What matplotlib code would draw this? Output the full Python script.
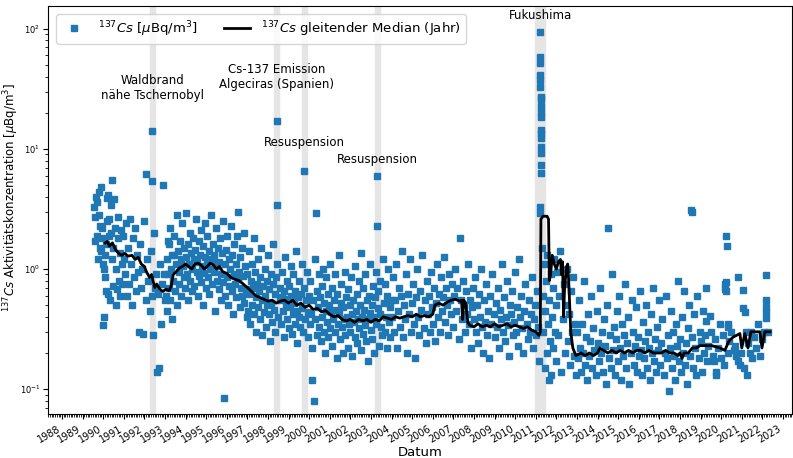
import datetime as dt
import numpy as np
import matplotlib
matplotlib.use("Agg")
import matplotlib.pyplot as plt
import matplotlib.dates as mdates

# Messwerte (Dezimaljahr, Cs-137 in µBq/m³), nach Zeitabschnitten
cs_1989_1990 = [(1989.55, 3.3), (1989.6, 1.7), (1989.62, 2.7), (1989.66, 4.0), (1989.7, 1.9), (1989.72, 3.6),
                (1989.75, 1.2), (1989.78, 2.8), (1989.8, 4.4), (1989.83, 1.5), (1989.86, 2.3), (1989.88, 4.8),
                (1989.9, 1.4), (1989.93, 2.2), (1989.95, 1.8), (1989.98, 1.1), (1990.0, 0.34), (1990.03, 0.4),
                (1990.05, 1.0), (1990.08, 0.85), (1990.1, 1.3), (1990.13, 0.65), (1990.15, 1.6), (1990.18, 2.5),
                (1990.2, 3.9), (1990.23, 4.1), (1990.25, 0.62), (1990.28, 2.6), (1990.3, 1.9), (1990.33, 0.55),
                (1990.36, 3.4), (1990.4, 2.0), (1990.42, 1.2), (1990.45, 5.5), (1990.48, 0.72), (1990.5, 1.5),
                (1990.53, 3.8), (1990.56, 2.2), (1990.6, 0.5), (1990.63, 1.0), (1990.66, 0.68), (1990.7, 1.8),
                (1990.73, 2.7), (1990.76, 0.8), (1990.8, 1.35), (1990.83, 0.6), (1990.86, 2.1), (1990.9, 1.1),
                (1990.93, 0.75), (1990.96, 1.9)]

cs_1991_1992 = [(1991.0, 1.2), (1991.05, 0.9), (1991.1, 2.4), (1991.15, 0.6), (1991.2, 1.5), (1991.25, 0.75),
                (1991.3, 2.6), (1991.35, 1.1), (1991.4, 0.5), (1991.45, 1.8), (1991.5, 0.85), (1991.55, 2.2),
                (1991.6, 0.65), (1991.65, 1.3), (1991.7, 0.95), (1991.75, 0.3), (1991.8, 1.6), (1991.85, 0.7),
                (1991.9, 1.0), (1991.95, 0.29), (1992.0, 2.5), (1992.06, 6.2), (1992.1, 0.55), (1992.15, 1.2),
                (1992.2, 0.8), (1992.25, 0.45), (1992.3, 1.4), (1992.35, 0.6), (1992.37, 14.0), (1992.38, 5.4),
                (1992.4, 0.28), (1992.45, 2.0), (1992.5, 0.7), (1992.55, 0.9), (1992.6, 0.14), (1992.65, 0.62),
                (1992.7, 0.15), (1992.75, 1.1), (1992.8, 0.35), (1992.85, 0.75), (1992.92, 5.0), (1992.95, 0.9)]

cs_1993_1996 = [(1993.02, 0.55), (1993.05, 0.6), (1993.08, 1.2), (1993.1, 0.45), (1993.13, 1.7), (1993.15, 0.9),
                (1993.18, 1.6), (1993.2, 0.7), (1993.23, 2.2), (1993.26, 0.55), (1993.3, 1.0), (1993.33, 0.38),
                (1993.36, 1.3), (1993.4, 0.8), (1993.43, 1.3), (1993.46, 1.9), (1993.5, 0.65), (1993.53, 1.1),
                (1993.56, 2.8), (1993.6, 0.5), (1993.63, 1.4), (1993.66, 0.95), (1993.7, 0.75), (1993.73, 1.7),
                (1993.76, 1.2), (1993.8, 0.6), (1993.83, 2.4), (1993.86, 1.05), (1993.9, 0.85), (1993.93, 1.5),
                (1993.96, 0.7), (1994.0, 1.25), (1994.03, 2.9), (1994.06, 0.9), (1994.1, 1.6), (1994.13, 0.55),
                (1994.16, 1.1), (1994.2, 2.0), (1994.23, 0.8), (1994.26, 1.35), (1994.3, 0.65), (1994.33, 1.0),
                (1994.36, 1.8), (1994.4, 1.2), (1994.43, 0.72), (1994.46, 1.45), (1994.5, 2.6), (1994.53, 0.95),
                (1994.56, 1.15), (1994.6, 0.6), (1994.63, 1.7), (1994.66, 0.88), (1994.7, 1.3), (1994.73, 2.1),
                (1994.76, 0.78), (1994.8, 1.05), (1994.83, 0.5), (1994.86, 1.55), (1994.9, 0.92), (1994.93, 1.25),
                (1994.96, 2.4), (1995.0, 0.7), (1995.03, 1.1), (1995.06, 1.9), (1995.1, 0.85), (1995.13, 1.4),
                (1995.16, 0.62), (1995.2, 1.0), (1995.23, 2.8), (1995.26, 1.2), (1995.3, 0.75), (1995.33, 1.6),
                (1995.36, 0.95), (1995.4, 1.3), (1995.43, 0.45), (1995.46, 1.05), (1995.5, 2.2), (1995.53, 0.8),
                (1995.56, 1.5), (1995.6, 0.68), (1995.63, 1.15), (1995.66, 1.8), (1995.7, 0.9), (1995.73, 0.55),
                (1995.76, 1.35), (1995.8, 2.5), (1995.83, 0.78), (1995.86, 0.085), (1995.9, 1.1), (1995.93, 0.6),
                (1995.96, 1.45), (1996.0, 0.85), (1996.03, 1.9), (1996.06, 0.5), (1996.1, 1.2), (1996.13, 0.72),
                (1996.16, 1.0), (1996.2, 2.3), (1996.23, 0.65), (1996.26, 1.3), (1996.3, 0.42), (1996.33, 0.9),
                (1996.36, 1.6), (1996.4, 0.75), (1996.43, 1.1), (1996.46, 0.58), (1996.5, 1.9), (1996.53, 0.82),
                (1996.56, 3.0), (1996.6, 0.95), (1996.63, 0.48), (1996.66, 1.25), (1996.7, 0.7), (1996.73, 1.5),
                (1996.76, 0.6), (1996.8, 0.88), (1996.83, 2.0), (1996.86, 0.52), (1996.9, 1.05), (1996.93, 0.68),
                (1996.96, 0.4)]

cs_1997_1999 = [(1997.0, 0.9), (1997.03, 0.45), (1997.06, 1.4), (1997.1, 0.62), (1997.13, 0.35), (1997.16, 0.8),
                (1997.2, 1.1), (1997.23, 0.5), (1997.26, 0.7), (1997.3, 1.8), (1997.33, 0.42), (1997.36, 0.95),
                (1997.4, 0.58), (1997.43, 0.3), (1997.46, 0.75), (1997.5, 1.2), (1997.53, 0.48), (1997.56, 0.65),
                (1997.6, 0.38), (1997.63, 0.85), (1997.66, 1.5), (1997.7, 0.55), (1997.73, 0.28), (1997.76, 0.72),
                (1997.8, 0.44), (1997.83, 1.0), (1997.86, 0.6), (1997.9, 0.33), (1997.93, 0.8), (1997.96, 0.5),
                (1998.0, 1.3), (1998.03, 0.42), (1998.06, 0.68), (1998.1, 0.25), (1998.13, 0.9), (1998.16, 0.52),
                (1998.2, 0.36), (1998.23, 0.75), (1998.26, 1.6), (1998.3, 0.46), (1998.33, 0.62), (1998.36, 0.3),
                (1998.4, 0.85), (1998.42, 17.0), (1998.43, 3.4), (1998.46, 1.1), (1998.5, 0.4), (1998.56, 0.55),
                (1998.6, 0.7), (1998.63, 0.35), (1998.66, 0.58), (1998.7, 0.95), (1998.73, 0.45), (1998.76, 0.27),
                (1998.8, 0.65), (1998.83, 1.25), (1998.86, 0.5), (1998.9, 0.38), (1998.93, 0.8), (1998.96, 0.56),
                (1999.0, 0.32), (1999.03, 0.72), (1999.06, 0.48), (1999.1, 1.05), (1999.13, 0.6), (1999.16, 0.29),
                (1999.2, 0.42), (1999.23, 0.9), (1999.26, 0.52), (1999.3, 0.35), (1999.33, 0.66), (1999.36, 1.4),
                (1999.4, 0.45), (1999.43, 0.24), (1999.46, 0.58), (1999.5, 0.8), (1999.53, 0.4), (1999.56, 0.33),
                (1999.6, 0.62), (1999.63, 1.1), (1999.66, 0.47), (1999.7, 0.3), (1999.73, 0.7), (1999.76, 6.5),
                (1999.8, 0.38), (1999.85, 0.55), (1999.9, 0.95), (1999.93, 0.44), (1999.96, 0.27)]

cs_2000_2003 = [(2000.0, 0.6), (2000.03, 0.35), (2000.06, 0.8), (2000.1, 0.42), (2000.13, 0.22), (2000.16, 0.12),
                (2000.2, 0.55), (2000.23, 0.08), (2000.26, 1.2), (2000.3, 0.38), (2000.33, 2.9), (2000.36, 0.28),
                (2000.4, 0.65), (2000.43, 0.48), (2000.46, 0.9), (2000.5, 0.33), (2000.53, 0.58), (2000.56, 0.25),
                (2000.6, 0.72), (2000.63, 0.4), (2000.66, 1.0), (2000.7, 0.3), (2000.73, 0.52), (2000.76, 0.2),
                (2000.8, 0.45), (2000.83, 0.85), (2000.86, 0.36), (2000.9, 0.62), (2000.93, 0.27), (2000.96, 0.5),
                (2001.0, 1.1), (2001.03, 0.32), (2001.06, 0.44), (2001.1, 0.7), (2001.13, 0.23), (2001.16, 0.38),
                (2001.2, 0.55), (2001.23, 0.9), (2001.26, 0.3), (2001.3, 0.46), (2001.33, 0.18), (2001.36, 0.62),
                (2001.4, 0.35), (2001.43, 1.3), (2001.46, 0.42), (2001.5, 0.26), (2001.53, 0.52), (2001.56, 0.75),
                (2001.6, 0.33), (2001.63, 0.2), (2001.66, 0.48), (2001.7, 0.38), (2001.73, 0.95), (2001.76, 0.28),
                (2001.8, 0.58), (2001.83, 0.4), (2001.86, 0.22), (2001.9, 0.68), (2001.93, 0.35), (2001.96, 0.5),
                (2002.0, 0.3), (2002.03, 0.85), (2002.06, 0.42), (2002.1, 0.19), (2002.13, 0.55), (2002.16, 0.36),
                (2002.2, 1.05), (2002.23, 0.27), (2002.26, 0.45), (2002.3, 0.62), (2002.33, 0.24), (2002.36, 0.38),
                (2002.4, 0.8), (2002.43, 0.32), (2002.46, 0.5), (2002.5, 1.35), (2002.53, 0.21), (2002.56, 0.4),
                (2002.6, 0.7), (2002.63, 0.29), (2002.66, 0.46), (2002.7, 0.34), (2002.73, 0.9), (2002.76, 0.25),
                (2002.8, 0.55), (2002.83, 0.38), (2002.86, 0.17), (2002.9, 0.6), (2002.93, 0.43), (2002.96, 1.1),
                (2003.0, 0.31), (2003.03, 0.5), (2003.06, 0.26), (2003.1, 0.72), (2003.13, 0.4), (2003.16, 0.2),
                (2003.2, 0.58), (2003.23, 0.35), (2003.26, 0.95), (2003.3, 6.0), (2003.31, 2.3), (2003.33, 0.47),
                (2003.36, 0.65), (2003.4, 0.23), (2003.43, 0.42), (2003.46, 0.8), (2003.5, 0.33), (2003.55, 0.28),
                (2003.6, 1.2), (2003.63, 0.52), (2003.66, 0.3), (2003.7, 0.75), (2003.73, 0.4), (2003.76, 0.22),
                (2003.8, 0.6), (2003.83, 1.0), (2003.86, 0.36), (2003.9, 0.48), (2003.93, 0.27), (2003.96, 0.55)]

cs_2004_2007 = [(2004.0, 0.4), (2004.05, 0.85), (2004.1, 0.3), (2004.15, 0.55), (2004.2, 1.1), (2004.25, 0.22),
                (2004.3, 0.45), (2004.35, 0.7), (2004.4, 0.33), (2004.45, 0.6), (2004.5, 1.4), (2004.55, 0.27),
                (2004.6, 0.5), (2004.65, 0.38), (2004.7, 0.9), (2004.75, 0.2), (2004.8, 0.62), (2004.85, 0.42),
                (2004.9, 1.2), (2004.95, 0.3), (2005.0, 0.52), (2005.05, 0.75), (2005.1, 0.35), (2005.15, 0.18),
                (2005.2, 0.58), (2005.25, 1.0), (2005.3, 0.4), (2005.35, 0.28), (2005.4, 0.65), (2005.45, 0.46),
                (2005.5, 1.3), (2005.55, 0.32), (2005.6, 0.55), (2005.65, 0.24), (2005.7, 0.8), (2005.75, 0.42),
                (2005.8, 0.6), (2005.85, 0.3), (2005.9, 0.95), (2005.95, 0.48), (2006.0, 0.35), (2006.05, 0.7),
                (2006.1, 0.25), (2006.15, 0.52), (2006.2, 1.1), (2006.25, 0.4), (2006.3, 0.62), (2006.35, 0.3),
                (2006.4, 0.85), (2006.45, 0.45), (2006.5, 0.58), (2006.55, 1.25), (2006.6, 0.36), (2006.65, 0.7),
                (2006.7, 0.5), (2006.75, 0.28), (2006.8, 0.9), (2006.85, 0.55), (2006.9, 0.42), (2006.95, 0.75),
                (2007.0, 0.33), (2007.05, 0.6), (2007.1, 1.0), (2007.15, 0.45), (2007.2, 0.7), (2007.25, 0.26),
                (2007.3, 1.8), (2007.35, 0.55), (2007.4, 0.38), (2007.45, 0.8), (2007.5, 0.5), (2007.55, 0.3),
                (2007.6, 0.65), (2007.65, 0.42), (2007.7, 1.1), (2007.75, 0.35), (2007.8, 0.55), (2007.85, 0.22),
                (2007.9, 0.48), (2007.95, 0.7)]

cs_2008_2011 = [(2008.0, 0.38), (2008.05, 0.85), (2008.1, 0.3), (2008.15, 0.5), (2008.2, 0.24), (2008.25, 0.62),
                (2008.3, 0.4), (2008.35, 1.0), (2008.4, 0.33), (2008.45, 0.2), (2008.5, 0.55), (2008.55, 0.36),
                (2008.6, 0.75), (2008.65, 0.28), (2008.7, 0.45), (2008.75, 0.18), (2008.8, 0.6), (2008.85, 0.35),
                (2008.9, 0.9), (2008.95, 0.42), (2009.0, 0.27), (2009.05, 0.52), (2009.1, 0.33), (2009.15, 0.7),
                (2009.2, 0.22), (2009.25, 0.46), (2009.3, 0.38), (2009.35, 1.1), (2009.4, 0.3), (2009.45, 0.58),
                (2009.5, 0.25), (2009.55, 0.4), (2009.6, 0.8), (2009.65, 0.34), (2009.7, 0.19), (2009.75, 0.5),
                (2009.8, 0.42), (2009.85, 0.65), (2009.9, 0.28), (2009.95, 0.36), (2010.0, 0.95), (2010.05, 0.3),
                (2010.1, 0.48), (2010.15, 0.23), (2010.2, 1.2), (2010.25, 0.4), (2010.3, 0.6), (2010.35, 0.32),
                (2010.4, 0.2), (2010.45, 0.45), (2010.5, 0.75), (2010.55, 0.35), (2010.6, 0.26), (2010.65, 0.55),
                (2010.7, 0.3), (2010.75, 0.42), (2010.8, 0.85), (2010.85, 0.22), (2010.9, 0.38), (2010.95, 0.5),
                (2011.0, 0.28), (2011.05, 0.65), (2011.1, 0.33), (2011.15, 0.17)]

cs_fukushima = [(2011.19, 3.3), (2011.2, 2.9), (2011.21, 94.6), (2011.21, 58.7), (2011.21, 51.6), (2011.22, 41.6),
                (2011.22, 37.6), (2011.22, 33.0), (2011.23, 27.3), (2011.23, 25.8), (2011.23, 22.7), (2011.24, 20.1),
                (2011.24, 18.3), (2011.24, 14.4), (2011.25, 13.6), (2011.25, 12.4), (2011.25, 10.4), (2011.26, 9.2),
                (2011.26, 7.3), (2011.27, 6.3)]

cs_2011_2012 = [(2011.3, 1.5), (2011.33, 0.6), (2011.36, 0.3), (2011.4, 1.1), (2011.43, 0.15), (2011.46, 0.45),
                (2011.5, 0.8), (2011.53, 0.2), (2011.56, 1.3), (2011.6, 0.35), (2011.63, 0.12), (2011.66, 0.55),
                (2011.7, 0.25), (2011.73, 0.9), (2011.76, 0.13), (2011.8, 0.4), (2011.83, 0.7), (2011.86, 0.22),
                (2011.9, 1.2), (2011.93, 0.3), (2011.96, 0.5), (2012.0, 0.17), (2012.05, 0.95), (2012.1, 0.28),
                (2012.15, 0.6), (2012.2, 1.4), (2012.25, 0.14), (2012.3, 0.38), (2012.35, 0.75), (2012.4, 0.2),
                (2012.45, 0.5), (2012.5, 1.0), (2012.55, 0.25), (2012.6, 0.42), (2012.65, 0.16), (2012.7, 0.65),
                (2012.75, 0.3), (2012.8, 0.85), (2012.85, 0.19), (2012.9, 0.35), (2012.95, 0.13)]

cs_2013_2018 = [(2013.0, 0.3), (2013.05, 0.18), (2013.1, 0.55), (2013.15, 0.22), (2013.2, 0.14), (2013.25, 0.35),
                (2013.3, 0.2), (2013.35, 0.8), (2013.4, 0.16), (2013.45, 0.27), (2013.5, 0.12), (2013.55, 0.42),
                (2013.6, 0.19), (2013.65, 0.25), (2013.7, 0.6), (2013.75, 0.15), (2013.8, 0.32), (2013.85, 0.21),
                (2013.9, 0.13), (2013.95, 0.45), (2014.0, 0.24), (2014.05, 0.17), (2014.1, 0.7), (2014.15, 0.2),
                (2014.2, 0.3), (2014.25, 0.14), (2014.3, 0.38), (2014.35, 0.23), (2014.4, 0.11), (2014.45, 0.5),
                (2014.5, 2.2), (2014.55, 0.18), (2014.6, 0.28), (2014.65, 0.15), (2014.7, 0.9), (2014.75, 0.21),
                (2014.8, 0.33), (2014.85, 0.13), (2014.9, 0.26), (2014.95, 0.45), (2015.0, 0.17), (2015.05, 0.6),
                (2015.1, 0.22), (2015.15, 0.12), (2015.2, 0.35), (2015.25, 0.19), (2015.3, 0.28), (2015.35, 0.75),
                (2015.4, 0.15), (2015.45, 0.24), (2015.5, 0.4), (2015.55, 0.11), (2015.6, 0.2), (2015.65, 0.55),
                (2015.7, 0.3), (2015.75, 0.16), (2015.8, 0.23), (2015.85, 0.48), (2015.9, 0.14), (2015.95, 0.27),
                (2016.0, 0.19), (2016.05, 0.65), (2016.1, 0.21), (2016.15, 0.13), (2016.2, 0.36), (2016.25, 0.18),
                (2016.3, 0.25), (2016.35, 0.5), (2016.4, 0.15), (2016.45, 0.3), (2016.5, 0.22), (2016.55, 0.12),
                (2016.6, 0.42), (2016.65, 0.2), (2016.7, 0.7), (2016.75, 0.17), (2016.8, 0.26), (2016.85, 0.14),
                (2016.9, 0.33), (2016.95, 0.21), (2017.0, 0.55), (2017.05, 0.16), (2017.1, 0.24), (2017.15, 0.38),
                (2017.2, 0.13), (2017.25, 0.2), (2017.3, 0.6), (2017.35, 0.18), (2017.4, 0.28), (2017.45, 0.096),
                (2017.5, 0.22), (2017.55, 0.45), (2017.6, 0.15), (2017.65, 0.3), (2017.7, 0.19), (2017.75, 0.12),
                (2017.8, 0.35), (2017.85, 0.23), (2017.9, 0.8), (2017.95, 0.17), (2018.0, 0.26), (2018.05, 0.14),
                (2018.1, 0.4), (2018.15, 0.2), (2018.2, 0.65), (2018.25, 0.16), (2018.3, 0.24), (2018.35, 0.11),
                (2018.4, 0.32), (2018.45, 0.5), (2018.5, 0.19), (2018.55, 3.1), (2018.57, 3.0), (2018.6, 0.27),
                (2018.65, 0.15), (2018.7, 0.42), (2018.75, 0.22), (2018.8, 0.13), (2018.85, 0.6), (2018.9, 0.18),
                (2018.95, 0.3)]

cs_2019_2022 = [(2019.02, 0.25), (2019.06, 0.14), (2019.1, 0.45), (2019.16, 0.2), (2019.21, 0.28), (2019.24, 0.69),
                (2019.28, 0.37), (2019.31, 0.17), (2019.36, 0.23), (2019.44, 0.41), (2019.5, 0.3), (2019.58, 0.19),
                (2019.63, 0.17), (2019.7, 0.26), (2019.74, 0.14), (2019.76, 0.13), (2019.85, 0.22), (2019.92, 0.35),
                (2020.0, 0.18), (2020.08, 0.28), (2020.15, 0.16), (2020.18, 0.75), (2020.2, 0.68), (2020.22, 0.65),
                (2020.23, 0.78), (2020.26, 1.9), (2020.27, 1.56), (2020.31, 0.35), (2020.32, 0.33), (2020.33, 0.2),
                (2020.4, 0.25), (2020.5, 0.3), (2020.6, 0.21), (2020.67, 0.23), (2020.72, 0.19), (2020.8, 0.86),
                (2020.84, 0.17), (2020.9, 0.16), (2020.96, 0.2), (2021.04, 0.67), (2021.05, 0.47), (2021.1, 0.15),
                (2021.15, 0.44), (2021.2, 0.3), (2021.23, 0.13), (2021.3, 0.24), (2021.39, 0.2), (2021.44, 0.3),
                (2021.5, 0.18), (2021.6, 0.27), (2021.7, 0.22), (2021.8, 0.35), (2021.9, 0.19), (2022.0, 0.26),
                (2022.1, 0.3), (2022.16, 0.89), (2022.17, 0.55), (2022.18, 0.48), (2022.19, 0.44), (2022.2, 0.39),
                (2022.25, 0.3)]

# gleitender Median (Jahr)
median_1990_2011 = [(1990.1, 1.65), (1990.2, 1.7), (1990.3, 1.55), (1990.45, 1.65), (1990.6, 1.45), (1990.75, 1.35),
                    (1990.9, 1.3), (1991.05, 1.35), (1991.2, 1.28), (1991.4, 1.3), (1991.55, 1.2), (1991.7, 1.25),
                    (1991.85, 1.1), (1992.0, 1.05), (1992.1, 0.95), (1992.25, 0.85), (1992.35, 0.9), (1992.5, 0.7),
                    (1992.6, 0.75), (1992.75, 0.68), (1992.9, 0.65), (1993.05, 0.68), (1993.2, 0.66), (1993.3, 0.72),
                    (1993.4, 0.9), (1993.55, 0.95), (1993.7, 1.02), (1993.85, 1.05), (1994.0, 1.1), (1994.15, 1.05),
                    (1994.3, 1.0), (1994.45, 1.1), (1994.6, 1.12), (1994.75, 1.08), (1994.9, 1.0), (1995.05, 1.05),
                    (1995.2, 1.12), (1995.35, 1.08), (1995.5, 1.0), (1995.65, 1.05), (1995.8, 0.95), (1996.0, 0.92),
                    (1996.2, 0.85), (1996.4, 0.82), (1996.6, 0.8), (1996.8, 0.75), (1997.0, 0.7), (1997.2, 0.65),
                    (1997.4, 0.6), (1997.6, 0.58), (1997.8, 0.56), (1998.0, 0.54), (1998.2, 0.55), (1998.4, 0.52),
                    (1998.6, 0.54), (1998.8, 0.55), (1999.0, 0.52), (1999.2, 0.55), (1999.4, 0.5), (1999.6, 0.52),
                    (1999.8, 0.48), (2000.0, 0.5), (2000.2, 0.46), (2000.4, 0.47), (2000.6, 0.44), (2000.8, 0.45),
                    (2001.0, 0.42), (2001.2, 0.4), (2001.4, 0.41), (2001.6, 0.38), (2001.8, 0.37), (2002.0, 0.38),
                    (2002.2, 0.36), (2002.4, 0.38), (2002.6, 0.37), (2002.8, 0.38), (2003.0, 0.36), (2003.2, 0.38),
                    (2003.4, 0.37), (2003.6, 0.4), (2003.8, 0.39), (2004.0, 0.38), (2004.2, 0.4), (2004.4, 0.39),
                    (2004.6, 0.4), (2004.8, 0.41), (2005.0, 0.4), (2005.2, 0.42), (2005.4, 0.4), (2005.6, 0.41),
                    (2005.8, 0.4), (2006.0, 0.42), (2006.1, 0.5), (2006.3, 0.52), (2006.5, 0.5), (2006.7, 0.53),
                    (2006.9, 0.55), (2007.1, 0.56), (2007.3, 0.54), (2007.4, 0.55), (2007.45, 0.38), (2007.5, 0.55),
                    (2007.6, 0.52), (2007.7, 0.36), (2007.8, 0.34), (2008.0, 0.33), (2008.2, 0.35), (2008.4, 0.33),
                    (2008.6, 0.34), (2008.8, 0.33), (2009.0, 0.35), (2009.2, 0.33), (2009.4, 0.34), (2009.6, 0.35),
                    (2009.8, 0.33), (2010.0, 0.34), (2010.2, 0.33), (2010.4, 0.32), (2010.6, 0.33), (2010.8, 0.31),
                    (2011.0, 0.3), (2011.15, 0.28)]

median_2011_2022 = [(2011.22, 0.3), (2011.25, 2.6), (2011.35, 2.75), (2011.55, 2.75), (2011.62, 2.6), (2011.66, 0.8),
                    (2011.72, 0.9), (2011.8, 1.3), (2011.9, 1.1), (2012.0, 1.0), (2012.1, 1.15), (2012.2, 1.2),
                    (2012.25, 0.9), (2012.3, 1.15), (2012.35, 0.4), (2012.4, 0.7), (2012.5, 1.05), (2012.55, 1.1),
                    (2012.6, 0.8), (2012.7, 0.3), (2012.8, 0.22), (2012.95, 0.19), (2013.2, 0.2), (2013.4, 0.19),
                    (2013.6, 0.2), (2013.8, 0.19), (2014.0, 0.2), (2014.1, 0.22), (2014.3, 0.21), (2014.5, 0.2),
                    (2014.7, 0.21), (2014.9, 0.2), (2015.1, 0.21), (2015.3, 0.2), (2015.5, 0.21), (2015.7, 0.2),
                    (2015.9, 0.21), (2016.1, 0.21), (2016.3, 0.2), (2016.5, 0.21), (2016.7, 0.2), (2016.9, 0.2),
                    (2017.1, 0.2), (2017.3, 0.21), (2017.5, 0.2), (2017.7, 0.2), (2017.9, 0.19), (2018.0, 0.2),
                    (2018.1, 0.18), (2018.2, 0.2), (2018.4, 0.2), (2018.6, 0.22), (2018.8, 0.22), (2018.97, 0.23),
                    (2019.55, 0.23), (2019.94, 0.22), (2020.18, 0.21), (2020.37, 0.25), (2020.57, 0.27),
                    (2020.91, 0.29), (2021.0, 0.22), (2021.15, 0.29), (2021.3, 0.22), (2021.44, 0.3), (2021.88, 0.3),
                    (2021.98, 0.22), (2022.12, 0.3), (2022.37, 0.3)]

# Ereignisse: (Beginn, Ende, Text, y-Position des Textes)
events = [(1992.28, 1992.52, 'Waldbrand\nnähe Tschernobyl', 32),
          (1998.30, 1998.54, 'Cs-137 Emission\nAlgeciras (Spanien)', 40),
          (1999.65, 1999.88, 'Resuspension', 11.2),
          (2003.18, 2003.42, 'Resuspension', 8.1),
          (2010.97, 2011.45, 'Fukushima', 128)]


def to_date(y):
    year = int(y)
    return dt.datetime(year, 1, 1) + dt.timedelta(days=(y - year) * 365.25)


def split(pairs):
    return [to_date(p[0]) for p in pairs], [p[1] for p in pairs]


messung = (cs_1989_1990 + cs_1991_1992 + cs_1993_1996 + cs_1997_1999 + cs_2000_2003 +
           cs_2004_2007 + cs_2008_2011 + cs_fukushima + cs_2011_2012 + cs_2013_2018 + cs_2019_2022)
median = median_1990_2011 + median_2011_2022

fig = plt.figure(figsize=(7.93, 4.58), dpi=100)
ax = fig.add_axes([0.0605, 0.096, 0.938, 0.891])

for start, end, text, ytext in events:
    ax.axvspan(to_date(start), to_date(end), color='#e5e5e5', zorder=0)
    ax.text(to_date((start + end) / 2), ytext, text, ha='center', va='center', fontsize=8.5, zorder=5)

d, v = split(messung)
ax.plot(d, v, 's', color='#1f77b4', markersize=4, label=r'$^{137}Cs$ [$\mu$Bq/m$^3$]', zorder=2)
d, v = split(median)
ax.plot(d, v, '-', color='black', lw=2, label=r'$^{137}Cs$ gleitender Median (Jahr)', zorder=3)

ax.set_yscale('log')
ax.set_ylim(0.062, 155)
ax.set_xlim(to_date(1987.32), to_date(2023.43))

ax.xaxis.set_major_locator(mdates.YearLocator())
ax.xaxis.set_major_formatter(mdates.DateFormatter('%Y'))
ax.xaxis.set_minor_locator(mdates.MonthLocator())
plt.setp(ax.get_xticklabels(), rotation=30, ha='right', fontsize=7)
ax.tick_params(axis='y', which='major', labelsize=6, pad=2)

ax.set_xlabel('Datum', fontsize=9.5, labelpad=1)
ax.set_ylabel(r'$^{137}Cs$ Aktivitätskonzentration [$\mu$Bq/m$^3$]', fontsize=8.5)
ax.yaxis.set_label_coords(-0.036, 0.53)

ax.legend(loc='upper left', ncol=2, fontsize=9.5, borderaxespad=0.6)

fig.savefig('out.png', dpi=100)
